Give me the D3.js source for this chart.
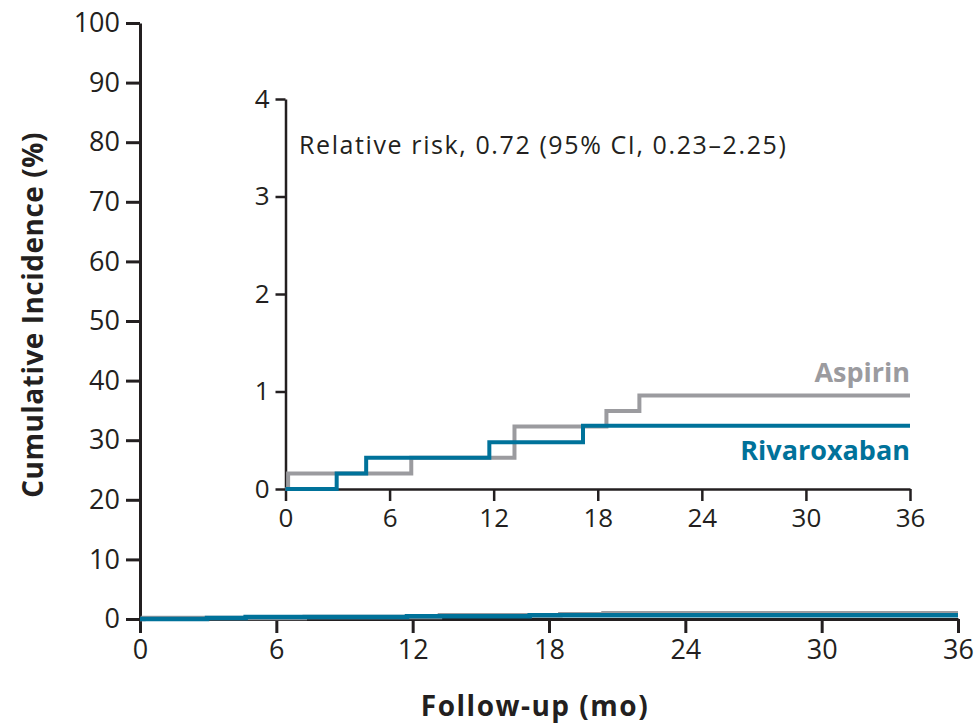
<!DOCTYPE html>
<html lang="en">
<head>
<meta charset="utf-8">
<title>Cumulative incidence</title>
<script src="https://cdn.jsdelivr.net/npm/d3@7"></script>
<style>
  body { margin: 0; background: #fff; }
  svg text { font-family: "Open Sans", "Noto Sans", sans-serif; fill: #231f20; }
  .axis path, .axis line { stroke: #231f20; fill: none; }
</style>
</head>
<body>
<script>
// data (months, cumulative %)
var aspirinTime = [0, 0.15, 7.25, 13.2, 18.5, 20.4, 36];
var aspirinValue = [0, 0.16, 0.32, 0.64, 0.80, 0.96, 0.96];
var rivaTime = [0, 2.95, 4.65, 11.75, 17.15, 36];
var rivaValue = [0, 0.16, 0.32, 0.48, 0.65, 0.65];

var xTicks = [0, 6, 12, 18, 24, 30, 36];
var mainYTicks = [0, 10, 20, 30, 40, 50, 60, 70, 80, 90, 100];
var insetYTicks = [0, 1, 2, 3, 4];

var gray = "#9b9b9f";
var blue = "#00729a";

var w = 979, h = 727;
var svg = d3.select("body").append("svg").attr("width", w).attr("height", h);

// main chart scales
var x = d3.scaleLinear().domain([0, 36]).range([140, 958]);
var y = d3.scaleLinear().domain([0, 100]).range([619, 23]);
// inset scales
var xi = d3.scaleLinear().domain([0, 36]).range([285.5, 910]);
var yi = d3.scaleLinear().domain([0, 4]).range([489, 99]);

function series(t, v) { return t.map(function (d, i) { return { t: d, v: v[i] }; }); }
var aspirin = series(aspirinTime, aspirinValue);
var riva = series(rivaTime, rivaValue);

// main axes
var gy = svg.append("g").attr("class", "axis").attr("transform", "translate(140,0)")
  .call(d3.axisLeft(y).tickValues(mainYTicks).tickSize(14).tickSizeOuter(0).tickPadding(6));
var gx = svg.append("g").attr("class", "axis").attr("transform", "translate(0,619)")
  .call(d3.axisBottom(x).tickValues(xTicks).tickSize(14).tickSizeOuter(0).tickPadding(7));
[gy, gx].forEach(function (g) {
  g.selectAll("path, line").attr("stroke-width", 3);
  g.selectAll("text").attr("font-size", 27).attr("fill", "#231f20");
});

// main lines
var mainLine = d3.line().x(function (d) { return x(d.t); }).y(function (d) { return y(d.v); }).curve(d3.curveStepAfter);
svg.append("path").datum(aspirin).attr("d", mainLine).attr("fill", "none").attr("stroke", gray).attr("stroke-width", 4.5);
svg.append("path").datum(riva).attr("d", mainLine).attr("fill", "none").attr("stroke", blue).attr("stroke-width", 4.5);

// inset axes
var iy = svg.append("g").attr("class", "axis").attr("transform", "translate(285.5,0)")
  .call(d3.axisLeft(yi).tickValues(insetYTicks).tickFormat(d3.format("d")).tickSize(10).tickSizeOuter(0).tickPadding(6));
var ix = svg.append("g").attr("class", "axis").attr("transform", "translate(0,489)")
  .call(d3.axisBottom(xi).tickValues(xTicks).tickSize(12).tickSizeOuter(0).tickPadding(8));
[iy, ix].forEach(function (g) {
  g.selectAll("path, line").attr("stroke-width", 2.5);
  g.selectAll("text").attr("font-size", 26).attr("fill", "#231f20");
});

var insetLine = d3.line().x(function (d) { return xi(d.t); }).y(function (d) { return yi(d.v); }).curve(d3.curveStepAfter);
svg.append("path").datum(aspirin).attr("d", insetLine).attr("fill", "none").attr("stroke", gray).attr("stroke-width", 4);
svg.append("path").datum(riva).attr("d", insetLine).attr("fill", "none").attr("stroke", blue).attr("stroke-width", 4);

// labels
svg.append("text").attr("x", 299).attr("y", 154).attr("font-size", 25).attr("letter-spacing", 1.6)
  .text("Relative risk, 0.72 (95% CI, 0.23\u20132.25)");
svg.append("text").attr("x", 910).attr("y", 382).attr("text-anchor", "end")
  .attr("font-size", 27).attr("font-weight", "bold").style("fill", gray).text("Aspirin");
svg.append("text").attr("x", 910).attr("y", 460).attr("text-anchor", "end")
  .attr("font-size", 27).attr("font-weight", "bold").style("fill", blue).text("Rivaroxaban");

svg.append("text").attr("transform", "translate(43,315) rotate(-90)").attr("text-anchor", "middle")
  .attr("font-size", 28).attr("font-weight", "bold").attr("letter-spacing", 0.5).text("Cumulative Incidence (%)");
svg.append("text").attr("x", 535).attr("y", 716).attr("text-anchor", "middle")
  .attr("font-size", 28).attr("font-weight", "bold").attr("letter-spacing", 1.5).text("Follow-up (mo)");
</script>
</body>
</html>
